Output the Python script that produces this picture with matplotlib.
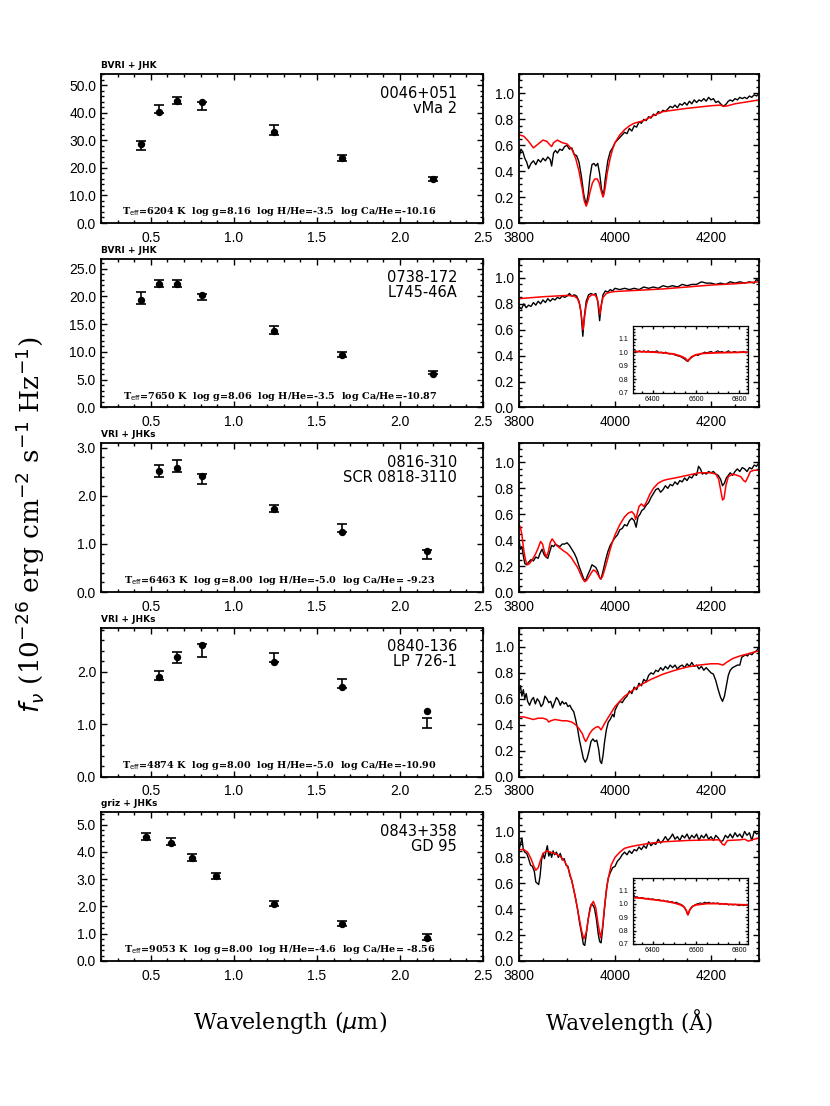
import matplotlib
matplotlib.use("Agg")
import matplotlib.pyplot as plt
import numpy as np
from matplotlib.ticker import MultipleLocator, FormatStrFormatter

# ---- photometry (left column) ----
names = [["0046+051", "vMa 2"], ["0738-172", "L745-46A"], ["0816-310", "SCR 0818-3110"],
         ["0840-136", "LP 726-1"], ["0843+358", "GD 95"]]
filters = ["BVRI + JHK", "BVRI + JHK", "VRI + JHKs", "VRI + JHKs", "griz + JHKs"]
params = ["6204 K  log g=8.16  log H/He=-3.5  log Ca/He=-10.16",
          "7650 K  log g=8.06  log H/He=-3.5  log Ca/He=-10.87",
          "6463 K  log g=8.00  log H/He=-5.0  log Ca/He= -9.23",
          "4874 K  log g=8.00  log H/He=-5.0  log Ca/He=-10.90",
          "9053 K  log g=8.00  log H/He=-4.6  log Ca/He= -8.56"]

wave_bvrijhk = [0.44, 0.55, 0.66, 0.81, 1.24, 1.65, 2.20]
wave_vrijhks = [0.55, 0.66, 0.81, 1.24, 1.65, 2.16]
wave_grizjhks = [0.47, 0.62, 0.75, 0.89, 1.24, 1.65, 2.16]

model1 = [28.7, 40.4, 44.1, 43.8, 32.9, 23.5, 15.8]
obs1 = [28.1, 41.3, 44.4, 42.3, 33.7, 23.4, 15.8]
err1 = [1.5, 1.3, 1.4, 1.4, 1.7, 1.1, 0.7]

model2 = [19.3, 22.3, 22.3, 20.3, 13.8, 9.5, 6.1]
obs2 = [19.75, 22.3, 22.3, 19.9, 14.0, 9.45, 6.3]
err2 = [1.05, 0.6, 0.6, 0.6, 0.7, 0.45, 0.35]

model3 = [2.52, 2.59, 2.42, 1.73, 1.24, 0.85]
obs3 = [2.52, 2.62, 2.35, 1.73, 1.33, 0.78]
err3 = [0.12, 0.13, 0.11, 0.07, 0.09, 0.10]

model4 = [1.90, 2.28, 2.51, 2.19, 1.71, 1.25]
obs4 = [1.92, 2.27, 2.40, 2.27, 1.77, 1.02]
err4 = [0.09, 0.11, 0.12, 0.08, 0.09, 0.09]

model5 = [4.56, 4.34, 3.78, 3.12, 2.09, 1.36, 0.84]
obs5 = [4.57, 4.37, 3.80, 3.10, 2.10, 1.38, 0.88]
err5 = [0.12, 0.13, 0.12, 0.11, 0.09, 0.10, 0.10]

sed_waves = [wave_bvrijhk, wave_bvrijhk, wave_vrijhks, wave_vrijhks, wave_grizjhks]
sed_model = [model1, model2, model3, model4, model5]
sed_obs = [obs1, obs2, obs3, obs4, obs5]
sed_err = [err1, err2, err3, err4, err5]
sed_ymax = [54, 26.8, 3.1, 2.84, 5.46]
sed_major = [10, 5, 1, 1, 1]
sed_minor = [2, 1, 0.2, 0.2, 0.2]

# ---- spectra (right column), (wavelength A, normalized flux) ----
spec1 = [(3800,0.50),(3804,0.57),(3808,0.55),(3812,0.50),(3816,0.47),(3820,0.42),(3825,0.46),(3830,0.48),
         (3835,0.45),(3840,0.49),(3845,0.47),(3850,0.50),(3855,0.48),(3860,0.51),(3865,0.49),(3868,0.44),
         (3872,0.54),(3876,0.56),(3880,0.54),(3885,0.57),(3890,0.56),(3895,0.59),(3900,0.60),(3905,0.57),
         (3910,0.58),(3915,0.53),(3920,0.52),(3925,0.47),(3930,0.36),(3935,0.22),(3940,0.14),(3944,0.22),
         (3948,0.36),(3952,0.45),(3956,0.46),(3960,0.44),(3964,0.46),(3968,0.38),(3972,0.26),(3976,0.21),
         (3980,0.35),(3985,0.48),(3990,0.55),(3995,0.58),(4000,0.62),(4005,0.64),(4010,0.66),(4015,0.68),
         (4020,0.70),(4025,0.69),(4030,0.73),(4035,0.71),(4040,0.75),(4045,0.74),(4050,0.78),(4055,0.77),
         (4060,0.80),(4065,0.79),(4070,0.82),(4075,0.81),(4080,0.84),(4085,0.83),(4090,0.86),(4095,0.85),
         (4100,0.87),(4105,0.86),(4110,0.88),(4115,0.90),(4120,0.89),(4125,0.91),(4130,0.89),(4135,0.92),
         (4140,0.91),(4145,0.93),(4150,0.91),(4155,0.94),(4160,0.92),(4165,0.95),(4170,0.93),(4175,0.95),
         (4180,0.94),(4185,0.96),(4190,0.94),(4195,0.97),(4200,0.95),(4205,0.96),(4210,0.93),(4215,0.94),
         (4220,0.92),(4226,0.90),(4232,0.92),(4236,0.94),(4240,0.95),(4245,0.94),(4250,0.96),(4255,0.95),
         (4260,0.97),(4265,0.96),(4270,0.97),(4275,0.96),(4280,0.98),(4285,0.97),(4290,0.99),(4295,0.98),
         (4300,1.00)]
fit1 = [(3800,0.68),(3810,0.67),(3820,0.63),(3830,0.58),(3840,0.61),(3850,0.64),(3858,0.63),(3865,0.60),
        (3868,0.59),(3872,0.62),(3880,0.64),(3890,0.62),(3900,0.61),(3910,0.57),(3918,0.50),(3925,0.40),
        (3932,0.26),(3936,0.17),(3940,0.13),(3944,0.17),(3948,0.24),(3953,0.31),(3958,0.34),(3963,0.34),
        (3967,0.31),(3971,0.25),(3975,0.20),(3979,0.26),(3984,0.39),(3990,0.50),(3995,0.57),(4000,0.62),
        (4010,0.68),(4020,0.72),(4030,0.75),(4040,0.77),(4050,0.78),(4060,0.79),(4080,0.83),(4100,0.86),
        (4150,0.885),(4200,0.905),(4220,0.91),(4226,0.90),(4235,0.905),(4250,0.92),(4300,0.95)]

spec2 = [(3800,0.78),(3805,0.76),(3810,0.80),(3815,0.77),(3820,0.79),(3825,0.78),(3830,0.81),(3835,0.79),
         (3840,0.82),(3845,0.80),(3850,0.83),(3855,0.81),(3860,0.84),(3865,0.82),(3870,0.84),(3875,0.83),
         (3880,0.85),(3885,0.84),(3890,0.86),(3895,0.85),(3900,0.86),(3905,0.88),(3910,0.86),(3915,0.87),
         (3920,0.86),(3925,0.82),(3929,0.74),(3933,0.55),(3936,0.70),(3940,0.82),(3945,0.87),(3950,0.88),
         (3955,0.87),(3960,0.88),(3964,0.82),(3968,0.67),(3971,0.78),(3975,0.87),(3980,0.90),(3985,0.89),
         (3990,0.91),(3995,0.90),(4000,0.92),(4010,0.91),(4020,0.92),(4030,0.91),(4040,0.92),(4050,0.91),
         (4060,0.93),(4070,0.92),(4080,0.93),(4090,0.92),(4100,0.94),(4110,0.93),(4120,0.94),(4130,0.93),
         (4140,0.95),(4150,0.94),(4160,0.95),(4170,0.95),(4180,0.97),(4190,0.96),(4200,0.96),(4210,0.95),
         (4220,0.96),(4230,0.95),(4240,0.97),(4250,0.96),(4260,0.97),(4270,0.96),(4280,0.97),(4290,0.96),
         (4295,0.99),(4300,0.97)]
fit2 = [(3800,0.84),(3850,0.855),(3900,0.865),(3915,0.86),(3922,0.84),(3927,0.79),(3931,0.68),(3933.5,0.60),
        (3936,0.68),(3940,0.79),(3945,0.85),(3952,0.87),(3958,0.87),(3963,0.84),(3966,0.78),(3968.5,0.72),
        (3971,0.78),(3975,0.85),(3982,0.88),(3990,0.89),(4000,0.895),(4050,0.905),(4100,0.915),(4150,0.93),
        (4200,0.945),(4250,0.955),(4300,0.97)]
halpha2 = [(6310,1.00),(6320,1.01),(6330,1.00),(6340,1.01),(6350,1.00),(6360,1.01),(6370,1.00),(6380,1.01),
           (6390,1.00),(6400,1.005),(6410,1.00),(6420,1.01),(6430,0.995),(6440,1.00),(6450,0.99),(6460,1.00),
           (6470,0.99),(6480,0.985),(6490,0.99),(6500,0.98),(6510,0.975),(6520,0.97),(6530,0.965),(6540,0.955),
           (6550,0.945),(6556,0.935),(6563,0.93),(6570,0.945),(6580,0.96),(6590,0.97),(6600,0.98),(6610,0.975),
           (6620,0.985),(6630,0.99),(6640,1.00),(6650,0.995),(6660,1.00),(6670,1.005),(6680,0.995),(6690,1.00),
           (6700,1.01),(6710,1.00),(6720,1.005),(6730,0.995),(6740,1.00),(6750,1.01),(6760,0.995),(6770,1.00),
           (6780,1.005),(6790,0.995),(6800,1.00),(6810,1.00),(6820,1.005),(6830,0.995),(6840,1.00)]
halpha_fit2 = [(6310,1.005),(6400,1.0),(6450,0.995),(6500,0.985),(6530,0.97),(6550,0.955),(6558,0.94),
               (6563,0.935),(6568,0.945),(6580,0.965),(6600,0.98),(6630,0.99),(6700,0.995),(6840,1.0)]

spec3 = [(3800,0.40),(3803,0.33),(3806,0.35),(3809,0.28),(3812,0.22),(3816,0.21),(3820,0.23),(3825,0.25),
         (3830,0.24),(3835,0.27),(3840,0.26),(3844,0.30),(3848,0.33),(3852,0.29),(3856,0.27),(3860,0.26),
         (3864,0.31),(3868,0.36),(3872,0.35),(3876,0.37),(3880,0.36),(3885,0.35),(3890,0.37),(3895,0.37),
         (3900,0.38),(3905,0.36),(3910,0.33),(3915,0.30),(3920,0.26),(3925,0.20),(3930,0.15),(3935,0.10),
         (3939,0.09),(3943,0.13),(3948,0.17),(3952,0.21),(3956,0.20),(3960,0.19),(3964,0.16),(3968,0.11),
         (3971,0.10),(3975,0.16),(3980,0.24),(3985,0.31),(3990,0.36),(3995,0.39),(4000,0.42),(4005,0.44),
         (4010,0.48),(4015,0.49),(4020,0.52),(4025,0.51),(4030,0.55),(4035,0.57),(4040,0.55),(4044,0.50),
         (4048,0.58),(4052,0.60),(4056,0.63),(4060,0.64),(4065,0.67),(4070,0.69),(4075,0.73),(4080,0.76),
         (4085,0.79),(4090,0.80),(4095,0.77),(4100,0.79),(4105,0.82),(4110,0.80),(4115,0.83),(4120,0.82),
         (4125,0.85),(4130,0.83),(4135,0.86),(4140,0.85),(4145,0.88),(4150,0.86),(4155,0.89),(4160,0.88),
         (4165,0.91),(4170,0.90),(4174,0.97),(4178,0.95),(4182,0.91),(4186,0.92),(4190,0.91),(4195,0.93),
         (4200,0.92),(4205,0.93),(4210,0.91),(4215,0.90),(4220,0.87),(4224,0.82),(4228,0.84),(4232,0.88),
         (4236,0.90),(4240,0.92),(4245,0.90),(4250,0.93),(4255,0.95),(4260,0.93),(4265,0.96),(4270,0.95),
         (4275,0.93),(4280,0.96),(4285,0.95),(4290,0.98),(4295,0.97),(4300,1.00)]
fit3 = [(3800,0.52),(3803,0.50),(3806,0.44),(3810,0.32),(3814,0.24),(3818,0.21),(3822,0.22),(3828,0.25),
        (3834,0.29),(3840,0.34),(3845,0.39),(3849,0.37),(3853,0.31),(3857,0.27),(3861,0.31),(3865,0.38),
        (3869,0.41),(3873,0.39),(3878,0.36),(3885,0.34),(3892,0.32),(3900,0.30),(3908,0.27),(3915,0.23),
        (3922,0.19),(3928,0.14),(3933,0.10),(3937,0.08),(3941,0.09),(3946,0.12),(3951,0.15),(3955,0.17),
        (3960,0.16),(3965,0.13),(3970,0.10),(3974,0.12),(3979,0.18),(3985,0.26),(3990,0.33),(3995,0.39),
        (4000,0.44),(4010,0.52),(4020,0.58),(4028,0.61),(4035,0.62),(4040,0.60),(4043,0.56),(4046,0.60),
        (4050,0.66),(4055,0.68),(4060,0.66),(4065,0.69),(4072,0.75),(4080,0.80),(4090,0.84),(4100,0.86),
        (4110,0.87),(4125,0.88),(4150,0.90),(4175,0.92),(4200,0.92),(4210,0.91),(4216,0.87),(4220,0.79),
        (4224,0.71),(4227,0.72),(4231,0.82),(4236,0.89),(4245,0.91),(4255,0.90),(4262,0.89),(4268,0.86),
        (4272,0.85),(4276,0.88),(4282,0.93),(4290,0.94),(4300,0.94)]

spec4 = [(3800,0.66),(3803,0.70),(3806,0.62),(3809,0.67),(3812,0.60),(3815,0.64),(3818,0.58),(3822,0.55),
         (3826,0.59),(3830,0.61),(3834,0.56),(3838,0.60),(3842,0.58),(3846,0.54),(3850,0.56),(3854,0.62),
         (3858,0.60),(3862,0.57),(3866,0.58),(3870,0.53),(3874,0.57),(3878,0.61),(3882,0.59),(3886,0.55),
         (3890,0.58),(3894,0.56),(3898,0.57),(3902,0.54),(3906,0.55),(3910,0.52),(3914,0.50),(3918,0.44),
         (3922,0.37),(3926,0.28),(3930,0.21),(3934,0.14),(3938,0.11),(3942,0.14),(3946,0.20),(3950,0.27),
         (3954,0.29),(3958,0.27),(3962,0.28),(3966,0.21),(3969,0.12),(3972,0.10),(3975,0.16),(3978,0.26),
         (3982,0.36),(3986,0.42),(3990,0.44),(3995,0.48),(3998,0.46),(4000,0.51),(4005,0.55),(4010,0.58),
         (4015,0.57),(4020,0.60),(4025,0.62),(4030,0.66),(4035,0.64),(4040,0.69),(4045,0.67),(4050,0.72),
         (4055,0.70),(4060,0.75),(4065,0.73),(4070,0.78),(4075,0.80),(4080,0.79),(4085,0.82),(4090,0.81),
         (4095,0.84),(4100,0.82),(4105,0.85),(4110,0.83),(4115,0.86),(4120,0.84),(4125,0.86),(4130,0.83),
         (4135,0.85),(4140,0.86),(4145,0.84),(4150,0.87),(4155,0.85),(4160,0.88),(4165,0.85),(4170,0.86),
         (4175,0.83),(4180,0.85),(4185,0.82),(4190,0.84),(4195,0.82),(4200,0.80),(4205,0.79),(4210,0.74),
         (4215,0.67),(4220,0.61),(4224,0.58),(4228,0.62),(4232,0.70),(4236,0.78),(4240,0.82),(4245,0.84),
         (4250,0.85),(4255,0.86),(4260,0.86),(4264,0.92),(4268,0.93),(4272,0.94),(4276,0.93),(4280,0.95),
         (4285,0.94),(4290,0.96),(4295,0.97),(4300,1.00)]
fit4 = [(3800,0.46),(3810,0.46),(3820,0.45),(3830,0.44),(3840,0.45),(3850,0.45),(3858,0.44),(3862,0.42),
        (3866,0.43),(3875,0.44),(3890,0.43),(3900,0.43),(3910,0.42),(3918,0.40),(3925,0.37),(3932,0.33),
        (3936,0.29),(3939,0.27),(3942,0.29),(3947,0.33),(3953,0.36),(3960,0.38),(3965,0.385),(3969,0.37),
        (3971,0.36),(3974,0.38),(3980,0.42),(3990,0.48),(4000,0.54),(4010,0.58),(4020,0.62),(4035,0.66),
        (4050,0.70),(4075,0.75),(4100,0.79),(4125,0.82),(4150,0.845),(4175,0.86),(4200,0.87),(4215,0.87),
        (4225,0.86),(4232,0.88),(4245,0.91),(4260,0.93),(4280,0.95),(4300,0.97)]

spec5 = [(3800,0.86),(3803,0.90),(3806,0.95),(3809,0.86),(3812,0.84),(3816,0.83),(3820,0.79),(3824,0.74),
         (3828,0.73),(3832,0.69),(3835,0.61),(3838,0.60),(3841,0.59),(3844,0.66),(3847,0.78),(3850,0.83),
         (3853,0.79),(3856,0.84),(3859,0.89),(3862,0.81),(3865,0.84),(3868,0.80),(3871,0.85),(3874,0.82),
         (3878,0.84),(3882,0.80),(3886,0.83),(3890,0.78),(3894,0.79),(3898,0.74),(3902,0.73),(3906,0.66),
         (3910,0.62),(3914,0.55),(3918,0.48),(3922,0.40),(3926,0.30),(3930,0.22),(3934,0.13),(3937,0.12),
         (3940,0.20),(3944,0.32),(3948,0.41),(3951,0.44),(3954,0.43),(3957,0.41),(3961,0.33),(3965,0.21),
         (3968,0.15),(3971,0.14),(3974,0.24),(3978,0.40),(3982,0.55),(3986,0.64),(3990,0.68),(3995,0.72),
         (4000,0.73),(4005,0.77),(4010,0.79),(4015,0.82),(4020,0.84),(4025,0.82),(4030,0.85),(4035,0.83),
         (4040,0.86),(4045,0.85),(4050,0.88),(4055,0.86),(4060,0.89),(4065,0.87),(4070,0.92),(4075,0.89),
         (4080,0.91),(4085,0.90),(4090,0.94),(4095,0.91),(4100,0.93),(4105,0.96),(4110,0.93),(4115,0.95),
         (4120,0.98),(4125,0.94),(4130,0.96),(4135,0.93),(4140,0.97),(4145,0.95),(4150,0.98),(4155,0.94),
         (4160,0.97),(4165,0.95),(4170,0.98),(4175,0.93),(4180,0.97),(4185,0.95),(4190,0.98),(4195,0.94),
         (4200,0.96),(4205,0.93),(4210,0.97),(4215,0.95),(4220,0.92),(4225,0.93),(4230,0.97),(4235,0.95),
         (4240,0.98),(4245,0.95),(4250,0.99),(4255,0.96),(4260,0.98),(4265,0.95),(4270,1.00),(4275,0.97),
         (4280,0.99),(4285,0.93),(4290,1.00),(4295,0.98),(4300,0.99)]
fit5 = [(3800,0.86),(3810,0.86),(3818,0.84),(3825,0.79),(3830,0.74),(3835,0.70),(3840,0.72),(3845,0.78),
        (3850,0.83),(3858,0.85),(3865,0.84),(3875,0.83),(3885,0.81),(3895,0.77),(3903,0.71),(3910,0.62),
        (3917,0.50),(3924,0.36),(3930,0.24),(3935,0.17),(3940,0.22),(3945,0.34),(3950,0.43),(3955,0.46),
        (3960,0.41),(3965,0.28),(3970,0.18),(3974,0.26),(3979,0.45),(3985,0.62),(3992,0.74),(4000,0.80),
        (4010,0.84),(4020,0.87),(4035,0.885),(4050,0.895),(4075,0.91),(4100,0.92),(4150,0.93),(4200,0.935),
        (4218,0.935),(4224,0.90),(4228,0.895),(4234,0.93),(4260,0.935),(4270,0.94),(4278,0.925),(4285,0.935),
        (4300,0.95)]
halpha5 = [(6310,1.07),(6315,1.06),(6320,1.05),(6330,1.05),(6340,1.04),(6350,1.045),(6360,1.04),(6370,1.035),
           (6380,1.04),(6390,1.03),(6400,1.035),(6410,1.03),(6420,1.025),(6430,1.03),(6440,1.02),(6450,1.025),
           (6460,1.015),(6470,1.02),(6480,1.01),(6490,1.015),(6500,1.005),(6510,1.01),(6520,1.0),(6530,0.995),
           (6540,0.985),(6548,0.97),(6555,0.95),(6560,0.925),(6563,0.915),(6567,0.93),(6572,0.955),(6580,0.975),
           (6590,0.985),(6600,0.995),(6610,1.0),(6620,1.005),(6630,1.0),(6640,1.01),(6650,1.005),(6660,1.01),
           (6670,1.0),(6680,1.005),(6690,1.0),(6700,1.005),(6710,0.995),(6720,1.0),(6730,0.995),(6740,1.0),
           (6750,0.99),(6760,0.995),(6770,0.99),(6780,0.995),(6790,0.99),(6800,0.985),(6810,0.99),(6820,0.985),
           (6830,0.99),(6840,0.985)]
halpha_fit5 = [(6310,1.045),(6350,1.04),(6400,1.03),(6450,1.02),(6500,1.005),(6530,0.99),(6545,0.975),
               (6555,0.95),(6560,0.93),(6563,0.918),(6566,0.93),(6572,0.955),(6585,0.98),(6600,0.99),
               (6650,1.0),(6700,1.0),(6750,0.995),(6840,0.99)]

spectra = [spec1, spec2, spec3, spec4, spec5]
fits = [fit1, fit2, fit3, fit4, fit5]
insets = {1: (halpha2, halpha_fit2), 4: (halpha5, halpha_fit5)}

W, H = 830, 1106
plt.rcParams['font.family'] = 'Liberation Sans'
fig = plt.figure(figsize=(W / 100, H / 100), dpi=100)


def style_axes(ax, size=10, major=4.0, minor=2.0, xpad=5.5):
    ax.tick_params(which='both', direction='in', top=True, right=True, width=1.0, labelsize=size)
    ax.tick_params(which='major', length=major)
    ax.tick_params(which='minor', length=minor)
    ax.tick_params(axis='x', which='major', pad=xpad)
    for s in ax.spines.values():
        s.set_linewidth(1.3)


tops = [74, 258.5, 443, 627.5, 812]
ph = 149
for i in range(5):
    bottom = 1 - (tops[i] + ph) / H
    # left: spectral energy distribution
    ax = fig.add_axes([101 / W, bottom, 382 / W, ph / H])
    ax.errorbar(sed_waves[i], sed_obs[i], yerr=sed_err[i], fmt='none', ecolor='black',
                elinewidth=1.2, capsize=3.8, capthick=1.2)
    ax.plot(sed_waves[i], sed_model[i], 'o', color='black', markersize=4.3)
    ax.set_xlim(0.2, 2.5)
    ax.set_ylim(0, sed_ymax[i])
    ax.xaxis.set_major_locator(MultipleLocator(0.5))
    ax.xaxis.set_minor_locator(MultipleLocator(0.1))
    ax.yaxis.set_major_locator(MultipleLocator(sed_major[i]))
    ax.yaxis.set_minor_locator(MultipleLocator(sed_minor[i]))
    ax.xaxis.set_major_formatter(FormatStrFormatter('%.1f'))
    ax.yaxis.set_major_formatter(FormatStrFormatter('%.1f'))
    style_axes(ax)
    ax.text(0.0, 1.025, filters[i], transform=ax.transAxes, fontsize=6.5,
            fontweight='bold', ha='left', va='bottom', family='DejaVu Sans')
    ax.text(0.932, 0.92, names[i][0] + "\n" + names[i][1], transform=ax.transAxes,
            fontsize=10.5, ha='right', va='top', linespacing=1.0, family='DejaVu Sans')
    ax.text(0.468, 0.075, r"T$_{\rm eff}$=" + params[i], transform=ax.transAxes,
            fontsize=6.9, fontweight='bold', ha='center', va='center', family='DejaVu Serif')

    # right: spectrum with model fit
    axr = fig.add_axes([519 / W, bottom, 240 / W, ph / H])
    sw, sf = np.array(spectra[i]).T
    fw, ff = np.array(fits[i]).T
    axr.plot(sw, sf, color='black', lw=1.0)
    axr.plot(fw, ff, color='red', lw=1.1)
    axr.set_xlim(3800, 4300)
    axr.set_ylim(0, 1.15)
    axr.xaxis.set_major_locator(MultipleLocator(200))
    axr.xaxis.set_minor_locator(MultipleLocator(50))
    axr.yaxis.set_major_locator(MultipleLocator(0.2))
    axr.yaxis.set_minor_locator(MultipleLocator(0.05))
    axr.yaxis.set_major_formatter(FormatStrFormatter('%.1f'))
    style_axes(axr)

    if i in insets:
        hw, hf = np.array(insets[i][0]).T
        mw, mf = np.array(insets[i][1]).T
        ins_top = tops[i] + (68 if i == 1 else 66)
        axi = fig.add_axes([633 / W, 1 - (ins_top + 66) / H, 115 / W, 66 / H])
        axi.plot(hw, hf, color='black', lw=0.8)
        axi.plot(mw, mf, color='red', lw=1.3)
        axi.set_xlim(6310, 6840)
        axi.set_ylim(0.7, 1.19)
        axi.xaxis.set_major_locator(MultipleLocator(200))
        axi.xaxis.set_minor_locator(MultipleLocator(50))
        axi.yaxis.set_major_locator(MultipleLocator(0.1))
        axi.yaxis.set_minor_locator(MultipleLocator(0.025))
        axi.yaxis.set_major_formatter(FormatStrFormatter('%.1f'))
        style_axes(axi, size=5, major=2.5, minor=1.3, xpad=2.5)
        for s in axi.spines.values():
            s.set_linewidth(0.9)

fig.text(30 / W, 1 - 525 / H,
         r"$f_\nu$ (10$^{-26}$ erg cm$^{-2}$ s$^{-1}$ Hz$^{-1}$)",
         rotation=90, ha='center', va='center', fontsize=19, family='DejaVu Serif')
fig.text(290 / W, 1 - 1022 / H, r"Wavelength ($\mu$m)", ha='center', va='center',
         fontsize=16, family='DejaVu Serif')
fig.text(630 / W, 1 - 1022 / H, "Wavelength (Å)", ha='center', va='center',
         fontsize=15.5, family='DejaVu Serif')

fig.savefig("out.png", dpi=100)
